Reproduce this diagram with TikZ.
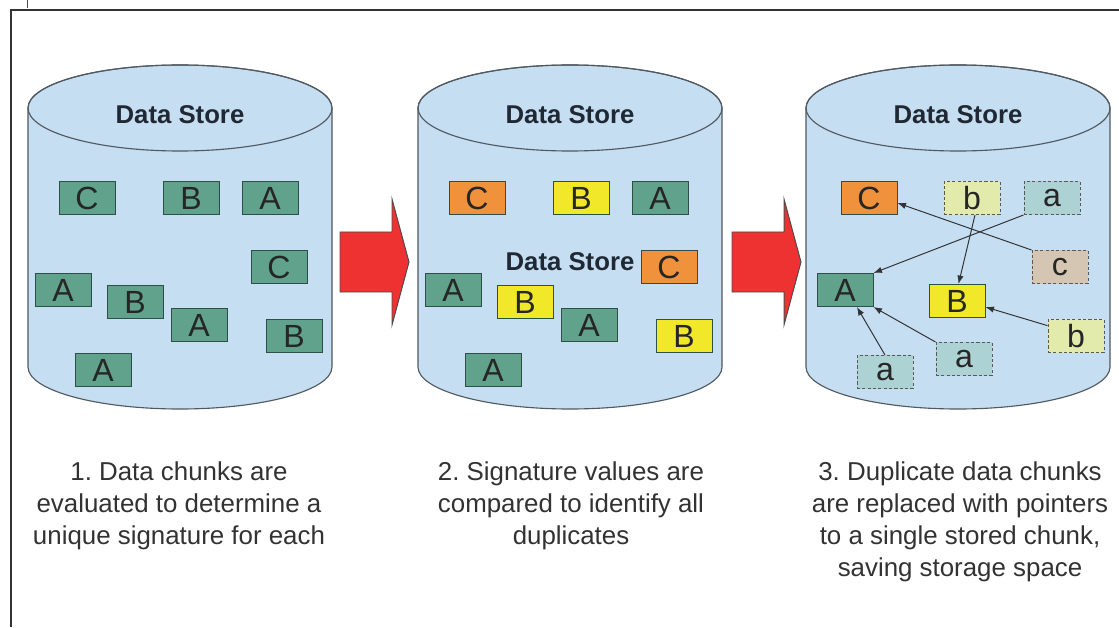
\documentclass[tikz,border=0pt]{standalone}
\usepackage{fontspec}
\setmainfont{Liberation Sans}
\usetikzlibrary{arrows.meta}
\frenchspacing

\definecolor{storeblue}{RGB}{198,222,242}
\definecolor{storeline}{RGB}{80,88,96}
\definecolor{chunkline}{RGB}{45,80,70}
\definecolor{chunkgreen}{RGB}{96,162,140}
\definecolor{chunkorange}{RGB}{240,146,60}
\definecolor{chunkyellow}{RGB}{242,232,42}
\definecolor{ghostb}{RGB}{226,234,172}
\definecolor{ghosta}{RGB}{172,210,212}
\definecolor{ghostc}{RGB}{212,198,178}
\definecolor{bigred}{RGB}{238,50,50}
\definecolor{textgray}{RGB}{50,50,50}
\definecolor{titleink}{RGB}{32,40,52}

\tikzset{
  store/.style={draw=storeline, line width=0.8pt},
  title/.style={inner sep=0pt, text=titleink, font=\bfseries\fontsize{18.3}{20}\selectfont},
  chunk/.style={draw=chunkline, line width=0.7pt, minimum width=1.4cm, minimum height=0.825cm,
    inner sep=0pt, text=black!85, font=\fontsize{22.8}{24}\selectfont},
  greenchunk/.style={chunk, fill=chunkgreen},
  orangechunk/.style={chunk, fill=chunkorange},
  yellowchunk/.style={chunk, fill=chunkyellow},
  dup/.style={chunk, draw=black!65, dash pattern=on 2.2pt off 1.6pt},
  dupa/.style={dup, fill=ghosta},
  dupb/.style={dup, fill=ghostb},
  dupc/.style={dup, fill=ghostc},
  pointer/.style={draw=black!80, line width=0.7pt, -{Latex[length=6pt,width=4.5pt]}},
  bigarrow/.style={draw=black!70, line width=0.7pt, fill=bigred},
  caption/.style={anchor=north, align=center, inner sep=0pt, text=textgray,
    font=\fontsize{18.4}{22.8}\selectfont},
}

\begin{document}
\begin{tikzpicture}[x=0.025cm,y=0.025cm]
  \useasboundingbox (0,0) rectangle (1119,627);
  % the frame
  \draw[line width=1.4pt,black!80] (1119,617) -- (11,617) -- (11,0);
  \draw[thin,black!70] (27,627) -- (27,619);

  % the three data stores
  \foreach \cx [count=\i] in {180,570,958} {
    \draw[store,fill=storeblue] (\cx-152,519) -- (\cx-152,260)
        arc [start angle=180, end angle=360, x radius=152, y radius=42]
        -- (\cx+152,519)
        arc [start angle=0, end angle=180, x radius=152, y radius=43] -- cycle;
    \draw[store] (\cx,519) ellipse [x radius=152, y radius=43];
    \node[title] (title\i) at (\cx,512) {Data Store};
  }

  % the red arrows
  \foreach \x in {340,732}
    \draw[bigarrow] (\x,395) -- ++(52,0) -- ++(0,33) -- ++(17,-63)
        -- ++(-17,-63) -- ++(0,33) -- ++(-52,0) -- cycle;

  % chunks of the first two stores
  \foreach \dx/\y/\t/\c [count=\i] in {-93/429/C/orangechunk, 11/429/B/yellowchunk,
      90/429/A/greenchunk, 99/360/C/orangechunk, -117/337/A/greenchunk,
      -45/325/B/yellowchunk, 19/302/A/greenchunk, 114/291/B/yellowchunk,
      -77/257/A/greenchunk} {
    \node[greenchunk] (one\i) at (180+\dx,\y) {\t};
    \node[\c] (two\i) at (570+\dx,\y) {\t};
  }
  \node[title] (middle) at (570,365) {Data Store};

  % third store: kept chunks and their duplicates
  \node[orangechunk] (keepC) at (869,429) {C};
  \node[greenchunk] (keepA) at (845,337) {A};
  \node[yellowchunk] (keepB) at (957,326) {B};
  \node[dupb] (dupb1) at (972,429) {b};
  \node[dupa] (dupa1) at (1052,429) {a};
  \node[dupc] (dupc) at (1060,360) {c};
  \node[dupb] (dupb2) at (1076,291) {b};
  \node[dupa] (dupa2) at (964,268) {a};
  \node[dupa] (dupa3) at (885,255) {a};

  \draw[pointer] (dupa1.south west) -- (keepA.north east);
  \draw[pointer] (dupc.north west) -- (keepC.-10);
  \draw[pointer] (dupb1.-80) -- (keepB.85);
  \draw[pointer] (dupb2.160) -- (keepB.-12);
  \draw[pointer] (dupa2.north west) -- (keepA.south east);
  \draw[pointer] (dupa3.north) -- (keepA.-55);

  % captions
  \node[caption] (capone) at (179,166)
      {1. Data chunks are\\evaluated to determine a\\unique signature for each};
  \node[caption] (captwo) at (571,166)
      {2. Signature values are\\compared to identify all\\duplicates};
  \node[caption] (capthree) at (960,166)
      {3. Duplicate data chunks\\are replaced with pointers\\to a single stored chunk,\\saving storage space};
\end{tikzpicture}
\end{document}
